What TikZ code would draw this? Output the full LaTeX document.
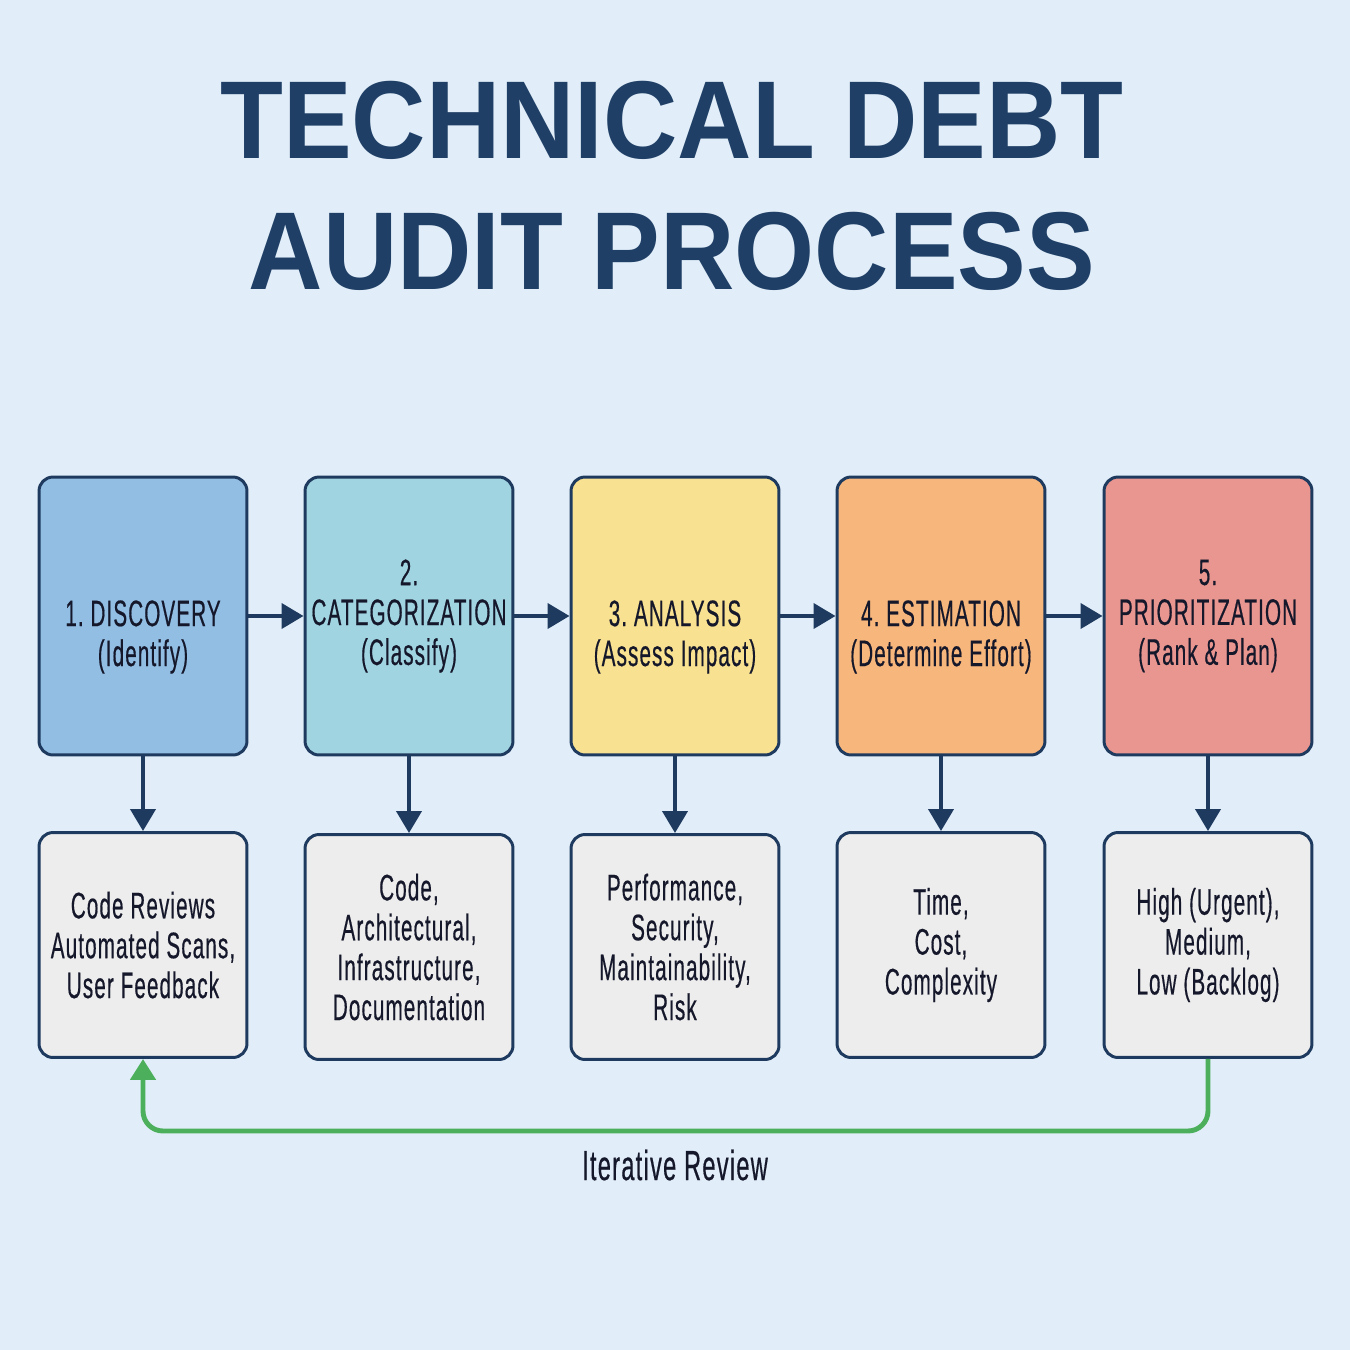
\documentclass[tikz,border=0pt]{standalone}
\usepackage{fontspec}
\usepackage{tikz}
\usetikzlibrary{arrows.meta, positioning, calc}
\setmainfont{Liberation Sans}
\newfontfamily\condfont[FakeStretch=0.56, LetterSpace=3, WordSpace=1.0, FakeBold=0.4]{Liberation Sans}
\newfontfamily\titlefont[FakeStretch=0.93]{Liberation Sans}
\definecolor{bgblue}{HTML}{E1EEF9}
\definecolor{navy}{HTML}{1F3A5F}
\definecolor{titleblue}{HTML}{1F3F66}
\definecolor{inktext}{HTML}{15172A}
\definecolor{stepblue}{HTML}{92BEE4}
\definecolor{stepteal}{HTML}{A1D4E1}
\definecolor{stepyellow}{HTML}{F8E190}
\definecolor{steporange}{HTML}{F7B67C}
\definecolor{stepred}{HTML}{EA9690}
\definecolor{detailgray}{HTML}{EDEDED}
\definecolor{loopgreen}{HTML}{4CAF5C}
\frenchspacing

\begin{document}
\begin{tikzpicture}[
    x=0.02cm, y=-0.02cm,
    stepbox/.style={draw=navy, rounded corners=0.28cm, fill=#1,
                    minimum width=4.16cm, minimum height=5.56cm, inner sep=0pt,
                    text width=4.0cm, align=flush center, text=inktext,
                    font=\condfont\fontsize{21}{22.7}\selectfont, line width=1.7pt},
    detailbox/.style={draw=navy, rounded corners=0.28cm, fill=detailgray,
                      minimum width=4.16cm, minimum height=4.5cm, inner sep=0pt,
                      text width=4.0cm, align=flush center, text=inktext,
                      font=\condfont\fontsize{21}{22.7}\selectfont, line width=1.7pt},
    flow/.style={-{Triangle[length=0.44cm,width=0.5cm]}, draw=navy, line width=2.3pt},
    loop/.style={-{Triangle[length=0.42cm,width=0.5cm]}, draw=loopgreen,
                 line width=2.8pt, rounded corners=0.4cm},
]
    % Background and page size
    \fill[bgblue] (0,0) rectangle (1350,1350);
    \useasboundingbox (0,0) rectangle (1350,1350);

    % Title
    \node[font=\titlefont\bfseries\fontsize{63}{75}\selectfont, text=titleblue,
          align=center] (title) at (672,186) {TECHNICAL DEBT\\AUDIT PROCESS};

    % Row 1: Steps
    \node[stepbox=stepblue] (discovery) at (143,616) {\strut\\1. DISCOVERY\\(Identify)};
    \node[stepbox=stepteal] (categorize) at (409,616) {2.\\CATEGORIZATION\\(Classify)};
    \node[stepbox=stepyellow] (analysis) at (675,616) {\strut\\3. ANALYSIS\\(Assess Impact)};
    \node[stepbox=steporange] (estimate) at (941,616) {\strut\\4. ESTIMATION\\(Determine Effort)};
    \node[stepbox=stepred] (prioritize) at (1208,616) {5.\\PRIORITIZATION\\(Rank \& Plan)};

    % Row 2: Details
    \node[detailbox] (sources) at (143,945) {Code Reviews\\Automated Scans,\\User Feedback};
    \node[detailbox] (types) at (409,947) {Code,\\Architectural,\\Infrastructure,\\Documentation};
    \node[detailbox] (impact) at (675,947) {Performance,\\Security,\\Maintainability,\\Risk};
    \node[detailbox] (effort) at (941,945) {Time,\\Cost,\\Complexity};
    \node[detailbox] (ranks) at (1208,945) {High (Urgent),\\Medium,\\Low (Backlog)};

    % Connections
    \draw[flow] (discovery) -- (categorize);
    \draw[flow] (categorize) -- (analysis);
    \draw[flow] (analysis) -- (estimate);
    \draw[flow] (estimate) -- (prioritize);
    \draw[flow] (discovery) -- (sources);
    \draw[flow] (categorize) -- (types);
    \draw[flow] (analysis) -- (impact);
    \draw[flow] (estimate) -- (effort);
    \draw[flow] (prioritize) -- (ranks);

    % Feedback loop
    \coordinate (loopright) at (1208,1131);
    \coordinate (loopleft) at (143,1131);
    \draw[loop] (ranks.south) -- (loopright) -- (loopleft) -- (sources.south);
    \node[font=\condfont\fontsize{24}{26}\selectfont, text=inktext] (looplabel) at (675,1165) {Iterative Review};
\end{tikzpicture}
\end{document}
